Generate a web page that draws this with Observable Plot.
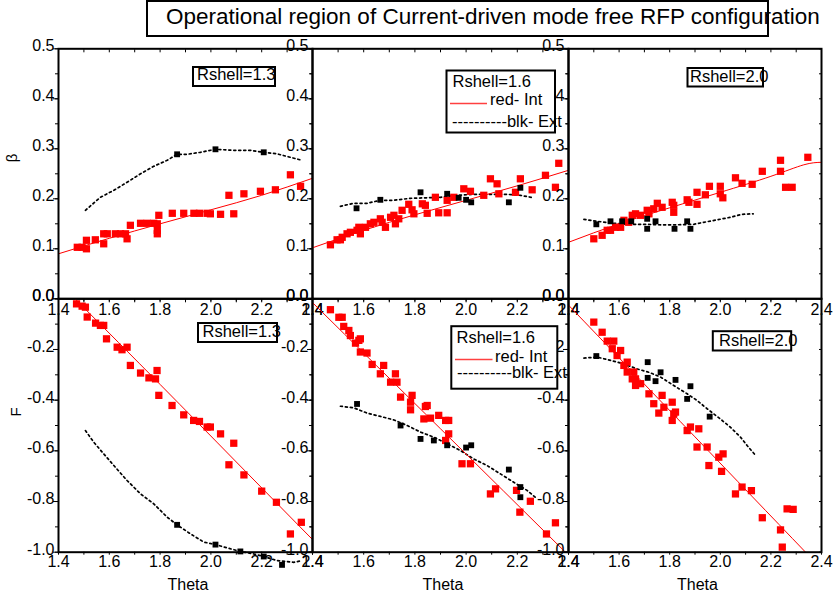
<!DOCTYPE html>
<html>
<head>
<meta charset="utf-8">
<script src="https://cdn.jsdelivr.net/npm/d3@7"></script>
<script src="https://cdn.jsdelivr.net/npm/@observablehq/plot@0.6"></script>
<style>
  body { margin: 0; background: #fff; }
  #chart { position: relative; width: 838px; height: 597px; overflow: hidden; background: #fff; }
  #chart svg { position: absolute; left: 0; top: 0; background: transparent !important; overflow: visible; }
</style>
</head>
<body>
<div id="chart"></div>
<script>
// ---------- tick values ----------
const xMajorTicks = [1.4, 1.6, 1.8, 2.0, 2.2, 2.4];
const xMinorTicks = [1.4, 1.5, 1.6, 1.7, 1.8, 1.9, 2.0, 2.1, 2.2, 2.3, 2.4];
const betaMajorTicks = [0, 0.1, 0.2, 0.3, 0.4, 0.5];
const betaMinorTicks = [0, 0.05, 0.1, 0.15, 0.2, 0.25, 0.3, 0.35, 0.4, 0.45, 0.5];
const fMajorTicks = [-1, -0.8, -0.6, -0.4, -0.2, 0];
const fMinorTicks = [-1, -0.9, -0.8, -0.7, -0.6, -0.5, -0.4, -0.3, -0.2, -0.1, 0];

// ---------- text ----------
const titleText = "Operational region of Current-driven mode free RFP configuration";
const shellLabels = ["Rshell=1.3", "Rshell=1.6", "Rshell=2.0"];
const intLabel = "red- Int";
const extLabel = "----------blk- Ext";
const xLabel = "Theta";
const yLabels = ["β", "F"];

// ---------- Rshell = 1.3 : beta ----------
const betaInt13 = [[1.474,0.103],[1.493,0.103],[1.51,0.100],[1.51,0.117],[1.545,0.118],[1.578,0.130],[1.578,0.110],[1.592,0.130],[1.624,0.130],[1.644,0.130],[1.664,0.130],[1.67,0.120],[1.683,0.147],[1.723,0.151],[1.749,0.151],[1.775,0.151],[1.789,0.137],[1.789,0.150],[1.789,0.130],[1.795,0.167],[1.848,0.171],[1.893,0.171],[1.933,0.171],[1.955,0.171],[1.985,0.171],[1.998,0.170],[2.038,0.169],[2.071,0.207],[2.09,0.170],[2.13,0.210],[2.195,0.215],[2.254,0.218],[2.313,0.248],[2.353,0.225]];
const betaFit13 = [[1.4,0.090],[1.6,0.121],[1.8,0.150],[2.0,0.178],[2.2,0.207],[2.4,0.241]];
const betaExt13 = [[1.506,0.177],[1.565,0.203],[1.618,0.217],[1.67,0.233],[1.723,0.250],[1.775,0.265],[1.828,0.277],[1.867,0.289],[1.907,0.289],[1.959,0.293],[2.018,0.299],[2.09,0.297],[2.155,0.297],[2.208,0.293],[2.26,0.290],[2.313,0.283],[2.359,0.277]];
const betaExtSq13 = [[1.867,0.289],[2.018,0.299],[2.208,0.293]];

// ---------- Rshell = 1.6 : beta ----------
const betaInt16 = [[1.47,0.108],[1.496,0.118],[1.509,0.118],[1.516,0.123],[1.535,0.130],[1.548,0.133],[1.574,0.137],[1.581,0.143],[1.587,0.130],[1.607,0.143],[1.626,0.150],[1.64,0.153],[1.665,0.160],[1.672,0.153],[1.685,0.143],[1.705,0.163],[1.718,0.167],[1.724,0.150],[1.737,0.160],[1.75,0.177],[1.776,0.189],[1.789,0.178],[1.796,0.170],[1.829,0.190],[1.841,0.187],[1.848,0.171],[1.88,0.203],[1.893,0.172],[1.926,0.172],[1.926,0.197],[1.952,0.203],[1.991,0.220],[2.017,0.215],[2.069,0.207],[2.095,0.240],[2.121,0.230],[2.128,0.210],[2.193,0.213],[2.212,0.240],[2.258,0.218],[2.31,0.247],[2.349,0.223],[2.362,0.271]];
const betaFit16 = [[1.4,0.102],[1.6,0.137],[1.8,0.168],[2.0,0.197],[2.2,0.226],[2.4,0.257]];
const betaExt16 = [[1.509,0.185],[1.561,0.191],[1.613,0.191],[1.665,0.197],[1.718,0.197],[1.783,0.201],[1.848,0.202],[1.9,0.203],[1.965,0.207],[2.03,0.209],[2.095,0.209],[2.16,0.209],[2.212,0.207],[2.264,0.202]];
const betaExtSq16 = [[1.572,0.181],[1.665,0.198],[1.822,0.213],[1.926,0.210],[1.971,0.202],[2.0,0.198],[2.02,0.193],[2.167,0.193],[2.212,0.222]];

// ---------- Rshell = 2.0 : beta ----------
const betaInt20 = [[1.5,0.120],[1.533,0.127],[1.553,0.137],[1.566,0.137],[1.586,0.143],[1.606,0.143],[1.619,0.157],[1.638,0.153],[1.652,0.167],[1.665,0.170],[1.685,0.167],[1.711,0.177],[1.718,0.170],[1.737,0.180],[1.751,0.191],[1.77,0.183],[1.81,0.193],[1.816,0.187],[1.816,0.173],[1.869,0.198],[1.876,0.193],[1.908,0.213],[1.908,0.189],[1.941,0.208],[1.957,0.225],[2.0,0.225],[2.0,0.210],[2.01,0.202],[2.06,0.242],[2.086,0.231],[2.126,0.229],[2.166,0.255],[2.238,0.277],[2.238,0.255],[2.258,0.223],[2.284,0.223],[2.346,0.283]];
const betaFit20 = [[1.4,0.113],[1.6,0.150],[1.8,0.182],[2.0,0.213],[2.2,0.245],[2.33,0.268],[2.4,0.273]];
const betaExt20 = [[1.461,0.159],[1.513,0.155],[1.579,0.151],[1.632,0.149],[1.698,0.149],[1.764,0.148],[1.829,0.148],[1.895,0.149],[1.935,0.153],[1.988,0.158],[2.04,0.163],[2.086,0.169],[2.13,0.170]];
const betaExtSq20 = [[1.51,0.149],[1.566,0.155],[1.612,0.155],[1.648,0.155],[1.711,0.160],[1.711,0.140],[1.744,0.155],[1.819,0.140],[1.869,0.155],[1.882,0.140]];

// ---------- Rshell = 1.3 : F ----------
const fInt13 = [[1.471,-0.020],[1.493,-0.029],[1.506,-0.033],[1.513,-0.072],[1.546,-0.096],[1.565,-0.105],[1.578,-0.105],[1.589,-0.158],[1.631,-0.191],[1.65,-0.201],[1.67,-0.191],[1.683,-0.263],[1.723,-0.293],[1.756,-0.312],[1.782,-0.316],[1.788,-0.283],[1.795,-0.381],[1.847,-0.421],[1.893,-0.458],[1.932,-0.480],[1.955,-0.484],[1.985,-0.506],[1.998,-0.506],[2.038,-0.533],[2.09,-0.570],[2.071,-0.655],[2.13,-0.695],[2.2,-0.759],[2.258,-0.803],[2.313,-0.928],[2.356,-0.882]];
const fFit13 = [[1.465,0.0],[1.8,-0.338],[2.1,-0.644],[2.4,-0.950]];
const fExt13 = [[1.506,-0.520],[1.539,-0.566],[1.572,-0.605],[1.618,-0.658],[1.67,-0.717],[1.723,-0.770],[1.775,-0.809],[1.828,-0.862],[1.867,-0.892],[1.92,-0.928],[1.972,-0.960],[2.018,-0.970],[2.064,-0.983],[2.116,-0.997],[2.169,-1.007],[2.208,-1.017],[2.26,-1.033],[2.326,-1.040],[2.359,-1.033]];
const fExtSq13 = [[1.867,-0.892],[2.018,-0.970],[2.116,-0.997],[2.208,-1.017],[2.28,-1.050]];

// ---------- Rshell = 1.6 : F ----------
const fInt16 = [[1.47,-0.043],[1.503,-0.073],[1.516,-0.073],[1.522,-0.109],[1.542,-0.125],[1.548,-0.145],[1.568,-0.175],[1.581,-0.164],[1.587,-0.158],[1.587,-0.210],[1.613,-0.214],[1.633,-0.259],[1.665,-0.296],[1.678,-0.263],[1.705,-0.329],[1.724,-0.296],[1.73,-0.329],[1.744,-0.388],[1.783,-0.408],[1.789,-0.381],[1.783,-0.438],[1.841,-0.425],[1.848,-0.421],[1.835,-0.474],[1.861,-0.471],[1.893,-0.460],[1.92,-0.480],[1.932,-0.480],[1.932,-0.533],[1.92,-0.559],[1.984,-0.651],[2.017,-0.651],[2.095,-0.770],[2.115,-0.750],[2.197,-0.756],[2.21,-0.842],[2.251,-0.799],[2.314,-0.928],[2.349,-0.884]];
const fFit16 = [[1.4,-0.015],[1.9,-0.513],[2.388,-1.0]];
const fExt16 = [[1.509,-0.424],[1.561,-0.430],[1.613,-0.451],[1.665,-0.464],[1.718,-0.478],[1.77,-0.500],[1.822,-0.526],[1.874,-0.546],[1.926,-0.572],[1.978,-0.599],[2.03,-0.632],[2.082,-0.658],[2.134,-0.691],[2.186,-0.724],[2.238,-0.756],[2.27,-0.783]];
const fExtSq16 = [[1.574,-0.415],[1.744,-0.500],[1.822,-0.553],[1.874,-0.559],[1.926,-0.578],[2.0,-0.587],[2.02,-0.578],[2.167,-0.674],[2.212,-0.743],[2.212,-0.783]];

// ---------- Rshell = 2.0 : F ----------
const fInt20 = [[1.5,-0.092],[1.533,-0.132],[1.553,-0.167],[1.579,-0.167],[1.573,-0.197],[1.606,-0.204],[1.592,-0.224],[1.619,-0.263],[1.632,-0.250],[1.632,-0.289],[1.658,-0.289],[1.652,-0.316],[1.665,-0.316],[1.665,-0.342],[1.685,-0.335],[1.718,-0.375],[1.737,-0.414],[1.757,-0.451],[1.77,-0.381],[1.777,-0.428],[1.81,-0.408],[1.816,-0.454],[1.823,-0.447],[1.81,-0.480],[1.869,-0.520],[1.882,-0.506],[1.915,-0.513],[1.908,-0.585],[1.948,-0.585],[1.955,-0.658],[1.994,-0.625],[2.011,-0.612],[2.005,-0.681],[2.06,-0.770],[2.086,-0.743],[2.123,-0.757],[2.166,-0.864],[2.238,-0.912],[2.245,-0.980],[2.264,-0.829],[2.288,-0.831]];
const fFit20 = [[1.4,-0.025],[1.9,-0.545],[2.337,-1.0]];
const fExt20 = [[1.461,-0.234],[1.513,-0.230],[1.566,-0.243],[1.619,-0.257],[1.672,-0.277],[1.718,-0.290],[1.764,-0.309],[1.816,-0.342],[1.869,-0.375],[1.908,-0.401],[1.948,-0.434],[2.0,-0.474],[2.04,-0.507],[2.08,-0.546],[2.106,-0.579],[2.136,-0.614]];
const fExtSq20 = [[1.51,-0.226],[1.713,-0.250],[1.713,-0.312],[1.744,-0.325],[1.764,-0.290],[1.823,-0.320],[1.882,-0.345],[1.869,-0.395],[1.958,-0.465]];

// ---------- layout ----------
const W = 838, H = 597;
const FONT = '"Liberation Sans", Arial, Helvetica, sans-serif';
const cols = [[58, 312], [312, 568], [568, 821]];
const rowsPx = [[48.3, 298.3], [298.3, 551.7]];

const panels = [
  {row: 0, col: 0, int: betaInt13, fit: betaFit13, ext: betaExt13, sq: betaExtSq13},
  {row: 0, col: 1, int: betaInt16, fit: betaFit16, ext: betaExt16, sq: betaExtSq16},
  {row: 0, col: 2, int: betaInt20, fit: betaFit20, ext: betaExt20, sq: betaExtSq20},
  {row: 1, col: 0, int: fInt13, fit: fFit13, ext: fExt13, sq: fExtSq13},
  {row: 1, col: 1, int: fInt16, fit: fFit16, ext: fExt16, sq: fExtSq16},
  {row: 1, col: 2, int: fInt20, fit: fFit20, ext: fExt20, sq: fExtSq20}
];

const fmt = d => (+d).toFixed(1);
const gx = d => d[0], gy = d => d[1];

const chart = document.getElementById("chart");

for (const p of panels) {
  const [x0, x1] = cols[p.col];
  const [y0, y1] = rowsPx[p.row];
  const top = p.row === 0;
  const major = top ? betaMajorTicks : fMajorTicks;
  const minor = top ? betaMinorTicks : fMinorTicks;
  const svg = Plot.plot({
    width: W, height: H,
    marginLeft: x0, marginRight: W - x1, marginTop: y0, marginBottom: H - y1,
    x: {domain: [1.4, 2.4], label: null},
    y: {domain: top ? [0, 0.5] : [-1, 0], label: null},
    style: {background: "transparent", overflow: "visible", fontFamily: FONT, fontSize: "16px", color: "#000"},
    marks: [
      Plot.line(p.ext, {x: gx, y: gy, stroke: "#000", strokeWidth: 1.7, strokeDasharray: "2,3"}),
      Plot.line(p.fit, {x: gx, y: gy, stroke: "#ff0000", strokeWidth: 1, curve: "natural"}),
      Plot.dot(p.int, {x: gx, y: gy, symbol: "square", r: 4.1, fill: "#ff0000"}),
      Plot.dot(p.sq, {x: gx, y: gy, symbol: "square", r: 3.3, fill: "#000"}),
      // x axes
      Plot.axisX({anchor: "top", ticks: xMinorTicks, tickSize: -3, fill: "none", label: null}),
      Plot.axisX({anchor: "bottom", ticks: xMinorTicks, tickSize: 3, fill: "none", label: null}),
      Plot.axisX({anchor: "bottom", ticks: xMajorTicks, tickSize: 0, tickPadding: top ? 5 : 3.5, tickFormat: fmt, fontSize: 16, label: null}),
      // y axes
      Plot.axisY({anchor: "left", ticks: major, tickSize: 5, fill: "none", label: null}),
      Plot.axisY({anchor: "left", ticks: minor, tickSize: 3, fill: "none", label: null}),
      Plot.axisY({anchor: "left", ticks: major, tickSize: 0, tickPadding: 4, tickFormat: fmt, fontSize: 16, dy: -2.5, label: null}),
      Plot.axisY({anchor: "right", ticks: minor, tickSize: -3, fill: "none", label: null}),
      Plot.frame({stroke: "#000", strokeWidth: 2})
    ]
  });
  chart.appendChild(svg);
}

// ---------- overlay: title, legends, axis titles ----------
const ov = d3.create("svg")
  .attr("width", W).attr("height", H)
  .attr("font-family", FONT)
  .style("position", "absolute").style("left", "0").style("top", "0");

function box(x, y, w, h) {
  ov.append("rect").attr("x", x).attr("y", y).attr("width", w).attr("height", h)
    .attr("fill", "#fff").attr("stroke", "#000").attr("stroke-width", 2);
}
function txt(x, y, s, size, anchor = "start") {
  return ov.append("text").attr("x", x).attr("y", y).attr("font-size", size)
    .attr("text-anchor", anchor).attr("fill", "#000").text(s);
}

// title
box(147, 1, 621, 35);
txt(166, 23.5, titleText, 22.5);

// top row legends
box(193, 67, 82, 19);
txt(197, 79.8, shellLabels[0], 16.5);
box(446.5, 70.5, 108.5, 62);
txt(452.5, 87, shellLabels[1], 16.5);
ov.append("line").attr("x1", 450).attr("x2", 487).attr("y1", 103.5).attr("y2", 103.5).attr("stroke", "#ff4040").attr("stroke-width", 1.5);
txt(490, 104.5, intLabel, 16.5);
txt(452, 126.5, extLabel, 16.5);
box(687.5, 68, 75.5, 18.5);
txt(690, 81.8, shellLabels[2], 16.5);

// bottom row legends
box(198, 323, 79, 19);
txt(202.5, 336.8, shellLabels[0], 16.5);
box(451.3, 326.2, 106, 62.5);
txt(456.5, 342.5, shellLabels[1], 16.5);
ov.append("line").attr("x1", 455).attr("x2", 492.5).attr("y1", 359.5).attr("y2", 359.5).attr("stroke", "#ff4040").attr("stroke-width", 1.5);
txt(495, 361.8, intLabel, 16.5);
txt(457, 378.3, extLabel, 16.5);
box(712.8, 331.2, 78.4, 19.3);
txt(719, 346, shellLabels[2], 16.5);

// axis titles
for (const c of cols) txt((c[0] + c[1]) / 2 + 3, 590, xLabel, 16, "middle");
txt(0, 0, yLabels[0], 15, "middle").attr("transform", "translate(17,158) rotate(-90)");
txt(0, 0, yLabels[1], 15, "middle").attr("transform", "translate(21,412) rotate(-90)");

chart.appendChild(ov.node());
</script>
</body>
</html>
